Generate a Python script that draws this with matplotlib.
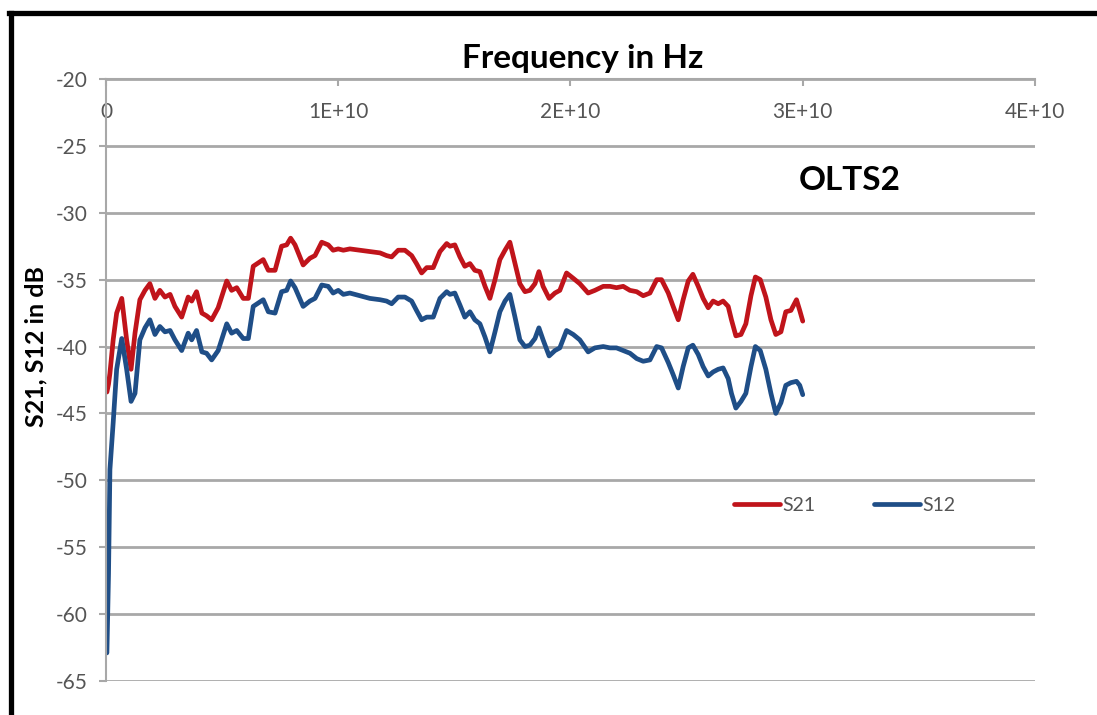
import numpy as np
import matplotlib.pyplot as plt
from matplotlib.lines import Line2D

# Frequency points in GHz (plotted in Hz)
freq_ghz = [0.04, 0.11, 0.17, 0.31, 0.46, 0.68, 0.89, 1.08, 1.25, 1.46, 1.68, 1.89,
            2.11, 2.32, 2.54, 2.76, 2.97, 3.26, 3.54, 3.69, 3.90, 4.13, 4.33, 4.55,
            4.83, 5.20, 5.41, 5.63, 5.91, 6.13, 6.34, 6.77, 6.99, 7.28, 7.56, 7.78,
            7.95, 8.14, 8.49, 8.78, 9.00, 9.29, 9.57, 9.78, 10.00, 10.22, 10.50, 10.93,
            11.36, 11.80, 12.08, 12.30, 12.58, 12.87, 13.16, 13.37, 13.59, 13.81, 14.09, 14.38,
            14.67, 14.81, 15.02, 15.24, 15.45, 15.67, 15.88, 16.10, 16.32, 16.53, 16.75, 16.96,
            17.18, 17.39, 17.61, 17.82, 18.04, 18.25, 18.47, 18.64, 18.82, 19.08, 19.33, 19.54,
            19.83, 20.12, 20.40, 20.76, 21.05, 21.41, 21.70, 21.98, 22.27, 22.56, 22.85, 23.13,
            23.42, 23.71, 23.92, 24.21, 24.42, 24.64, 24.85, 25.07, 25.27, 25.50, 25.71, 25.93,
            26.14, 26.36, 26.57, 26.79, 26.93, 27.12, 27.34, 27.55, 27.77, 27.96, 28.17, 28.41,
            28.63, 28.84, 29.06, 29.27, 29.49, 29.73, 29.87, 30.00]

s21 = [-43.4, -42.8, -42.0, -39.5, -37.5, -36.4, -39.5, -41.7, -39.0, -36.5, -35.8, -35.3,
       -36.4, -35.8, -36.3, -36.1, -37.0, -37.8, -36.3, -36.6, -35.9, -37.5, -37.7, -38.0,
       -37.1, -35.1, -35.8, -35.6, -36.4, -36.4, -34.0, -33.5, -34.3, -34.3, -32.5, -32.4,
       -31.9, -32.4, -33.9, -33.4, -33.2, -32.2, -32.4, -32.8, -32.7, -32.8, -32.7, -32.8,
       -32.9, -33.0, -33.2, -33.3, -32.8, -32.8, -33.2, -33.8, -34.5, -34.1, -34.1, -32.9,
       -32.3, -32.5, -32.4, -33.3, -34.0, -33.8, -34.3, -34.4, -35.5, -36.4, -35.0, -33.5,
       -32.8, -32.2, -33.8, -35.3, -35.9, -35.8, -35.3, -34.4, -35.5, -36.4, -36.0, -35.8,
       -34.5, -34.9, -35.3, -36.0, -35.8, -35.5, -35.5, -35.6, -35.5, -35.8, -35.9, -36.2,
       -36.0, -35.0, -35.0, -36.0, -37.0, -38.0, -36.5, -35.1, -34.6, -35.5, -36.4, -37.1,
       -36.6, -36.8, -36.6, -37.0, -38.0, -39.2, -39.1, -38.3, -36.2, -34.8, -35.0, -36.3,
       -38.0, -39.1, -38.9, -37.4, -37.3, -36.5, -37.3, -38.1]

s12 = [-62.9, -57.0, -49.2, -45.7, -41.7, -39.4, -41.7, -44.1, -43.5, -39.5, -38.6, -38.0,
       -39.1, -38.5, -38.9, -38.8, -39.5, -40.3, -39.0, -39.5, -38.8, -40.4, -40.5, -41.0,
       -40.3, -38.3, -39.0, -38.8, -39.4, -39.4, -37.0, -36.5, -37.4, -37.5, -35.9, -35.8,
       -35.1, -35.6, -37.0, -36.6, -36.4, -35.4, -35.5, -36.0, -35.8, -36.1, -36.0, -36.2,
       -36.4, -36.5, -36.6, -36.8, -36.3, -36.3, -36.6, -37.3, -38.0, -37.8, -37.8, -36.4,
       -35.9, -36.1, -36.0, -36.9, -37.8, -37.4, -38.0, -38.3, -39.3, -40.4, -38.9, -37.4,
       -36.6, -36.1, -37.8, -39.5, -40.0, -39.9, -39.4, -38.6, -39.5, -40.7, -40.3, -40.1,
       -38.8, -39.1, -39.5, -40.4, -40.1, -40.0, -40.1, -40.1, -40.3, -40.5, -40.9, -41.1,
       -41.0, -40.0, -40.1, -41.2, -42.1, -43.1, -41.5, -40.1, -39.9, -40.6, -41.5, -42.2,
       -41.9, -41.7, -41.6, -42.4, -43.5, -44.6, -44.1, -43.5, -41.5, -40.0, -40.3, -41.7,
       -43.5, -45.0, -44.2, -42.9, -42.7, -42.6, -42.9, -43.6]

x_ticks = [0, 1e10, 2e10, 3e10, 4e10]
x_ticklabels = ['0', '1E+10', '2E+10', '3E+10', '4E+10']
y_ticks = [-65, -60, -55, -50, -45, -40, -35, -30, -25, -20]

freq_hz = np.array(freq_ghz) * 1e9
grid_col = '#a8a8a8'
text_col = '#555555'

plt.rcParams['font.family'] = ['Lato', 'DejaVu Sans']

fig = plt.figure(figsize=(10.97, 7.15), dpi=100)
ax = fig.add_axes([0.0966, 0.0476, 0.8469, 0.8419])

ax.plot(freq_hz, s21, color='#C0141B', lw=3.4, label='S21',
        solid_capstyle='round', solid_joinstyle='round')
ax.plot(freq_hz, s12, color='#1F4E87', lw=3.4, label='S12',
        solid_capstyle='round', solid_joinstyle='round')

ax.set_xlim(0, 4e10)
ax.set_ylim(-65, -20)
ax.set_yticks(y_ticks)
ax.set_yticklabels([str(v) for v in y_ticks])
ax.set_xticks(x_ticks)
ax.set_xticklabels(x_ticklabels)

ax.yaxis.grid(True, color=grid_col, lw=2)
ax.set_axisbelow(True)
for side in ['right', 'bottom']:
    ax.spines[side].set_visible(False)
for side in ['left', 'top']:
    ax.spines[side].set_color(grid_col)
    ax.spines[side].set_linewidth(1.5)

ax.tick_params(axis='y', direction='out', length=5, width=1.5, color=grid_col,
               labelsize=15, labelcolor=text_col, pad=8)
ax.tick_params(axis='x', top=True, bottom=False, labeltop=True, labelbottom=False,
               direction='in', length=5, width=1.5, color=grid_col,
               labelsize=15, labelcolor=text_col, pad=-31)

fig.text(0.531, 0.918, 'Frequency in Hz', ha='center', va='center',
         fontsize=24, fontweight='bold', color='black')
fig.text(0.033, 0.515, 'S21, S12 in dB', ha='center', va='center', rotation=90,
         fontsize=18, fontweight='bold', color='black')
ax.text(3.2e10, -27.6, 'OLTS2', ha='center', va='center',
        fontsize=24, fontweight='bold', color='black')

ax.legend(loc='center', bbox_to_anchor=(0.795, 0.292), ncol=2, frameon=False,
          fontsize=14, labelcolor=text_col, handlelength=2.4, handletextpad=0.1,
          columnspacing=3.0)

# thick black frame on the left and top
fig.add_artist(Line2D([11 / 1097, 11 / 1097], [0, 1 - 13 / 715], color='black', lw=3.8))
fig.add_artist(Line2D([9 / 1097, 1], [1 - 13 / 715, 1 - 13 / 715], color='black', lw=3.8))

fig.savefig('out.png', dpi=100)
